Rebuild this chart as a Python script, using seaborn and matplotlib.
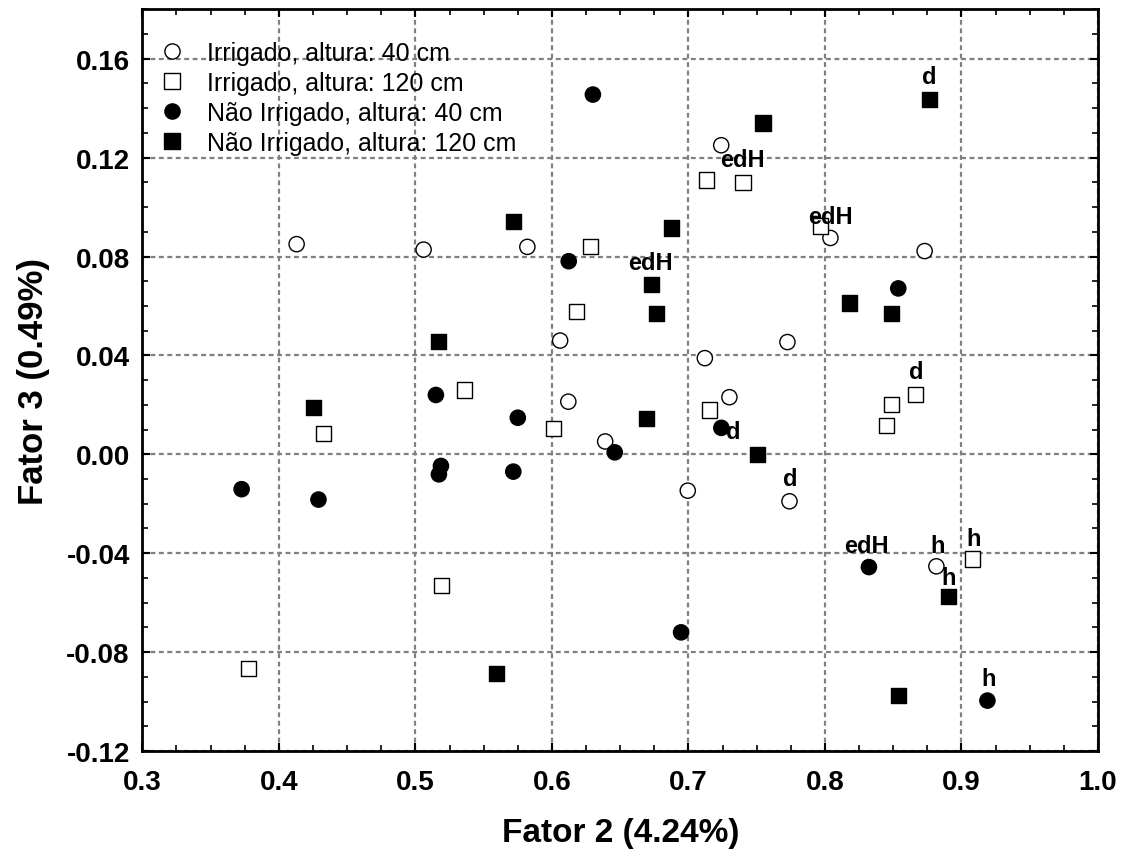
import numpy as np
import pandas as pd
import matplotlib
matplotlib.use("Agg")
import matplotlib.pyplot as plt
from matplotlib.ticker import MultipleLocator, FuncFormatter
import seaborn as sns

# Group names (legend order)
grupos = ["Irrigado, altura: 40 cm", "Irrigado, altura: 120 cm",
          "Não Irrigado, altura: 40 cm", "Não Irrigado, altura: 120 cm"]

# Irrigado, 40 cm (open circles)
irr40_x = [0.413, 0.506, 0.582, 0.606, 0.612, 0.639, 0.6995, 0.712, 0.724, 0.730, 0.7725, 0.774, 0.804, 0.873, 0.8816]
irr40_y = [0.085, 0.0828, 0.0839, 0.046, 0.0213, 0.0052, -0.0147, 0.0389, 0.125, 0.0231, 0.0454, -0.019, 0.0875, 0.0822, -0.0453]

# Irrigado, 120 cm (open squares)
irr120_x = [0.378, 0.4325, 0.519, 0.536, 0.601, 0.618, 0.628, 0.7135, 0.7152, 0.740, 0.797, 0.845, 0.8487, 0.8665, 0.9083]
irr120_y = [-0.0865, 0.0085, -0.0532, 0.026, 0.0105, 0.0579, 0.0842, 0.1109, 0.0179, 0.110, 0.0923, 0.0117, 0.0201, 0.0242, -0.0423]

# Não Irrigado, 40 cm (filled circles)
nirr40_x = [0.3727, 0.429, 0.515, 0.5187, 0.5172, 0.5717, 0.575, 0.6123, 0.630, 0.646, 0.6946, 0.7241, 0.8322, 0.8537, 0.919]
nirr40_y = [-0.0141, -0.0183, 0.024, -0.0047, -0.0081, -0.007, 0.0148, 0.0781, 0.1455, 0.0008, -0.072, 0.0107, -0.0456, 0.0671, -0.0996]

# Não Irrigado, 120 cm (filled squares)
nirr120_x = [0.4256, 0.517, 0.5595, 0.572, 0.669, 0.6728, 0.6766, 0.6873, 0.7508, 0.7546, 0.8182, 0.8487, 0.8537, 0.8766, 0.8907]
nirr120_y = [0.0189, 0.0455, -0.0885, 0.0943, 0.0146, 0.0688, 0.057, 0.0915, 0.0, 0.134, 0.0612, 0.057, -0.0976, 0.1435, -0.0576]

# Point annotations
rot_txt = ["edH", "edH", "edH", "d", "d", "d", "d", "edH", "h", "h", "h", "h"]
rot_x = [0.7394, 0.8042, 0.672, 0.8766, 0.8665, 0.733, 0.7745, 0.8305, 0.8826, 0.8907, 0.9088, 0.9198]
rot_y = [0.1193, 0.096, 0.0777, 0.153, 0.0334, 0.0093, -0.0096, -0.0367, -0.0367, -0.050, -0.034, -0.0907]

df = pd.concat([
    pd.DataFrame({"x": irr40_x, "y": irr40_y, "grupo": grupos[0]}),
    pd.DataFrame({"x": irr120_x, "y": irr120_y, "grupo": grupos[1]}),
    pd.DataFrame({"x": nirr40_x, "y": nirr40_y, "grupo": grupos[2]}),
    pd.DataFrame({"x": nirr120_x, "y": nirr120_y, "grupo": grupos[3]}),
], ignore_index=True)

sns.set_style("white")
plt.rcParams['font.family'] = ['Liberation Sans', 'DejaVu Sans']
plt.rcParams['axes.unicode_minus'] = False
plt.rcParams['text.color'] = 'black'
plt.rcParams['axes.labelcolor'] = 'black'
plt.rcParams['xtick.color'] = 'black'
plt.rcParams['ytick.color'] = 'black'

fig = plt.figure(figsize=(11.21, 8.54), dpi=100)
ax = fig.add_axes([0.127, 0.1194, 0.8525, 0.8686])

palette = {grupos[0]: "white", grupos[1]: "white", grupos[2]: "black", grupos[3]: "black"}
markers = {grupos[0]: "o", grupos[1]: "s", grupos[2]: "o", grupos[3]: "s"}

sns.scatterplot(data=df, x="x", y="y", hue="grupo", style="grupo",
                hue_order=grupos, style_order=grupos,
                palette=palette, markers=markers, s=120,
                edgecolor="black", linewidth=1.0, ax=ax, zorder=3)

for t, tx, ty in zip(rot_txt, rot_x, rot_y):
    ax.text(tx, ty, t, ha="center", va="center", fontsize=17,
            fontweight="bold", color="black", zorder=4)

ax.set_xlim(0.3, 1.0)
ax.set_ylim(-0.12, 0.18)
ax.xaxis.set_major_locator(MultipleLocator(0.1))
ax.xaxis.set_minor_locator(MultipleLocator(0.025))
ax.yaxis.set_major_locator(MultipleLocator(0.04))
ax.yaxis.set_minor_locator(MultipleLocator(0.01))
ax.xaxis.set_major_formatter(FuncFormatter(lambda v, p: f"{v:.1f}"))
ax.yaxis.set_major_formatter(FuncFormatter(lambda v, p: f"{v:.2f}"))

ax.grid(True, which="major", color="#808080", linestyle=(0, (2.2, 1.6)), linewidth=1.6)
ax.set_axisbelow(True)
for sp in ax.spines.values():
    sp.set_color("black")
    sp.set_linewidth(2)

ax.tick_params(which="both", direction="in", top=True, right=True, bottom=True, left=True,
               color="black", labelcolor="black")
ax.tick_params(which="major", length=6, width=1.5, labelsize=20, pad=9)
ax.tick_params(axis="x", which="major", pad=13)
ax.tick_params(which="minor", length=4, width=1.2)
for lab in ax.get_xticklabels() + ax.get_yticklabels():
    lab.set_fontweight("bold")

ax.set_xlabel("Fator 2 (4.24%)", fontsize=24, fontweight="bold", labelpad=16, color="black")
ax.set_ylabel("Fator 3 (0.49%)", fontsize=25, fontweight="bold", labelpad=12, color="black")

leg = ax.legend(loc="upper left", frameon=False, fontsize=18, markerscale=1.0,
                handlelength=2.0, handletextpad=0.4, labelspacing=0.24,
                borderpad=0, borderaxespad=0, bbox_to_anchor=(0.005, 0.957))
for h in leg.legend_handles:
    h.set_markeredgecolor("black")
for t in leg.get_texts():
    t.set_color("black")

fig.savefig("out.png", dpi=100)
